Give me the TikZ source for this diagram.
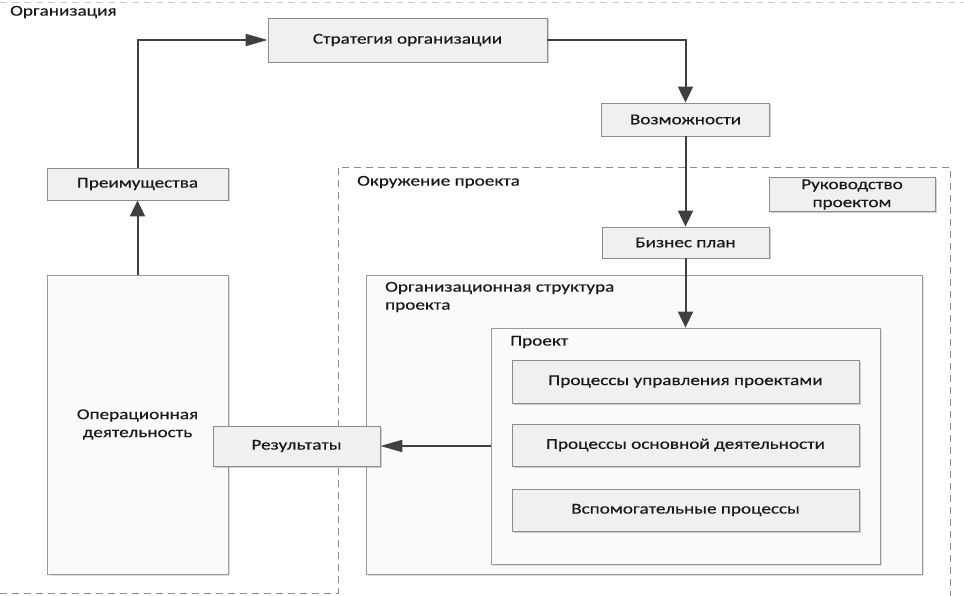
\documentclass[tikz,border=0pt]{standalone}
\usepackage{fontspec}
\setmainfont{Carlito}[FakeStretch=1.28, FakeBold=0.35]
\usetikzlibrary{shapes,arrows.meta,shadows}

\begin{document}
\begin{tikzpicture}[x=1pt, y=-1pt, font=\fontsize{15}{18}\selectfont]
\tikzstyle{box}=[rectangle, draw=black!45, fill=black!6, line width=0.8pt, inner sep=2pt, text=black!90, drop shadow={shadow xshift=1.5pt, shadow yshift=-1.5pt, fill=black!35, opacity=0.5}]
\tikzstyle{area}=[rectangle, draw=black!40, fill=black!2, line width=0.8pt, text=black!90, drop shadow={shadow xshift=1.5pt, shadow yshift=-1.5pt, fill=black!30, opacity=0.4}]
\tikzstyle{txt}=[inner sep=0pt, text=black!90, align=left]
\tikzstyle{border}=[draw=black!45, line width=0.9pt, dash pattern=on 7pt off 5pt]
\tikzstyle{drawstyle}=[line width=2pt, draw=black!75, -{Triangle[length=16pt, width=15pt]}]
\tikzstyle{drawstyleh}=[line width=2pt, draw=black!75, -{Triangle[length=22pt, width=12pt]}]

\useasboundingbox (0,0) rectangle (964,596);

% organisation and project environment borders
\draw[border, draw=black!20] (0,2) -- (964,2);
\draw[border] (0,593) -- (338,593) -- (338,167) -- (950,167) -- (950,596);
\node[txt, anchor=west] (Org) at (10,12) {Организация};
\node[txt, anchor=west] (Env) at (357,182) {Окружение проекта};

% big areas
\node[area, minimum width=181pt, minimum height=299pt, align=center] (Oper) at (137.5,424.5) {Операционная\\деятельность};
\node[area, minimum width=556pt, minimum height=299pt] (OrgStr) at (644,424.5) {};
\node[txt, anchor=west] (OrgStrT) at (385,297) {Организационная структура\\проекта};
\node[area, minimum width=389pt, minimum height=236pt] (Proj) at (685.5,446) {};
\node[txt, anchor=west] (ProjT) at (510,342) {Проект};

% boxes
\node[box, minimum width=279pt, minimum height=44pt] (Strat) at (407.5,40) {Стратегия организации};
\node[box, minimum width=168pt, minimum height=33pt] (Vozm) at (685.5,119.5) {Возможности};
\node[box, minimum width=181pt, minimum height=32pt] (Preim) at (137.5,184) {Преимущества};
\node[box, minimum width=166pt, minimum height=33pt, align=center] (Rukov) at (852,194.5) {Руководство\\проектом};
\node[box, minimum width=167pt, minimum height=31pt] (Biz) at (685.5,242.5) {Бизнес план};
\node[box, minimum width=167pt, minimum height=40pt] (Rez) at (296.5,446) {Результаты};
\node[box, minimum width=347pt, minimum height=43pt] (P1) at (685.5,381.5) {Процессы управления проектами};
\node[box, minimum width=347pt, minimum height=42pt] (P2) at (685.5,445) {Процессы основной деятельности};
\node[box, minimum width=347pt, minimum height=42pt] (P3) at (685.5,510) {Вспомогательные процессы};

% connectors
\draw[drawstyle] (Oper) -- (Preim);
\draw[drawstyleh] (Preim) |- (Strat);
\draw[drawstyle] (Strat) -| (Vozm);
\draw[drawstyle] (Vozm) -- (Biz);
\draw[drawstyle] (Biz) -- (Proj);
\draw[drawstyleh] (Proj) -- (Rez);
\end{tikzpicture}
\end{document}
